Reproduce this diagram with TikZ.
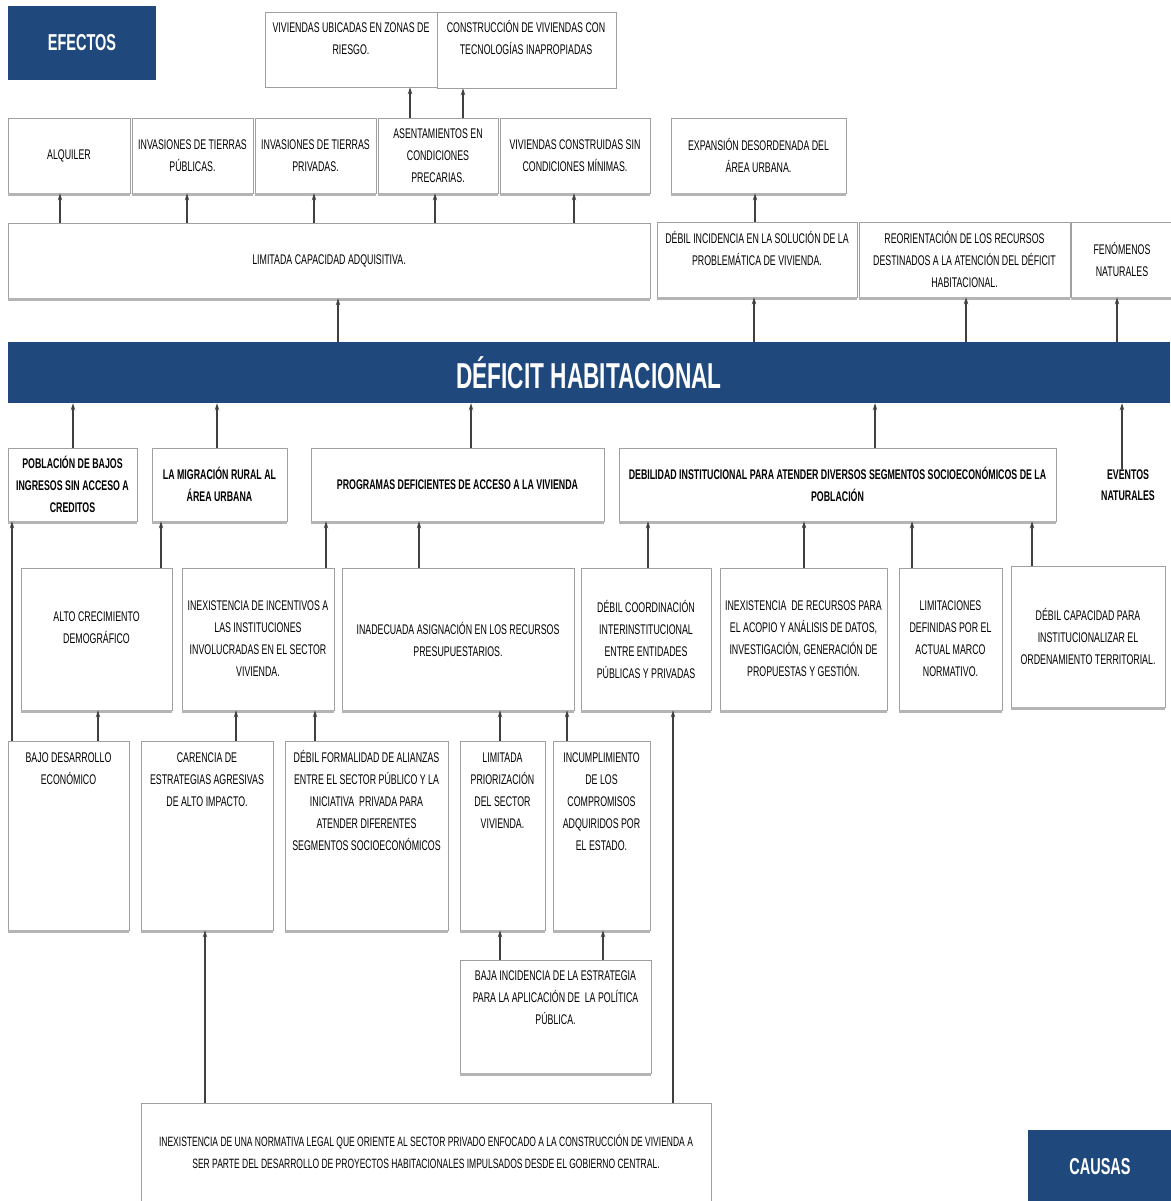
\documentclass[tikz,border=0pt]{standalone}
\usepackage{fontspec}
\setmainfont{Liberation Sans}[FakeStretch=0.63]
\usetikzlibrary{arrows.meta,calc}
\definecolor{navy}{HTML}{1F497D}
\definecolor{edgec}{HTML}{A0A0A0}
\definecolor{arrc}{HTML}{404040}
\definecolor{shdc}{HTML}{B4B4B4}
\newcommand\fl{\rule{0pt}{13pt}}
\newcommand\mybox[7][box]{%
 \pgfmathsetmacro\bxw{#5-#3}\pgfmathsetmacro\bxh{#6-#4}%
 \node[#1, minimum width=\bxw pt, minimum height=\bxh pt] (#2) at ({(#3+#5)/2},{(#4+#6)/2}) {#7};}
\newcommand\arr[3]{\draw[arw] (#2.north -| #1,0) -- (#3.south -| #1,0);}
\begin{document}
\begin{tikzpicture}[x=1pt,y=-1pt,
 box/.style={draw=edgec,line width=0.8pt,fill=white,inner sep=0pt,align=center,font=\fontsize{14}{22}\selectfont},
 bbox/.style={box,font=\fontsize{14}{22}\selectfont\bfseries},
 txt/.style={inner sep=0pt,align=center,font=\fontsize{14}{22}\selectfont},
 title/.style={fill=navy,text=white,inner sep=0pt,font=\fontsize{23}{26}\selectfont\bfseries},
 banner/.style={fill=navy,text=white,inner sep=0pt,font=\fontsize{36}{40}\selectfont\bfseries},
 arw/.style={draw=arrc,line width=1.2pt,-{Stealth[length=7pt,width=4.5pt]}},
 shd/.style={draw=shdc,line width=2.5pt}]
\fill[white] (0,0) rectangle (1170,1201);
\useasboundingbox (0,0) rectangle (1170,1201);

% ---------- EFECTOS ----------
\mybox[title]{EF}{8}{6}{156}{80}{EFECTOS}
\mybox{E1}{265}{12}{437}{87}{}
\node[txt,anchor=north] (tE1) at (351,19) {\fl VIVIENDAS UBICADAS EN ZONAS DE\\RIESGO.};
\mybox{E2}{437}{12}{616}{88}{}
\node[txt,anchor=north] (tE2) at (526,19) {\fl CONSTRUCCIÓN DE VIVIENDAS CON\\TECNOLOGÍAS INAPROPIADAS};

\mybox{A1}{8}{118}{130}{193}{ALQUILER}
\mybox{A2}{132}{118}{253}{193}{INVASIONES DE TIERRAS\\PÚBLICAS.}
\mybox{A3}{255}{118}{376}{193}{INVASIONES DE TIERRAS\\PRIVADAS.}
\mybox{A4}{378}{118}{498}{193}{ASENTAMIENTOS EN\\CONDICIONES\\PRECARIAS.}
\mybox{A5}{500}{118}{650}{193}{VIVIENDAS CONSTRUIDAS SIN\\CONDICIONES MÍNIMAS.}
\mybox{EX}{671}{118}{846}{193}{EXPANSIÓN DESORDENADA DEL\\ÁREA URBANA.}

\mybox{L}{8}{223}{650}{298}{LIMITADA CAPACIDAD ADQUISITIVA.}
\mybox{D1}{657}{222}{857}{297}{}
\node[txt,anchor=north] (tD1) at (757,230) {\fl DÉBIL INCIDENCIA EN LA SOLUCIÓN DE LA\\PROBLEMÁTICA DE VIVIENDA.};
\mybox{D2}{859}{222}{1070}{297}{REORIENTACIÓN DE LOS RECURSOS\\DESTINADOS A LA ATENCIÓN DEL DÉFICIT\\HABITACIONAL.}
\mybox{D3}{1071}{222}{1173}{297}{FENÓMENOS\\NATURALES}

% ---------- BANNER ----------
\mybox[banner]{DH}{8}{342}{1170}{403}{DÉFICIT HABITACIONAL}

% ---------- CAUSAS ----------
\mybox[bbox]{P}{8}{448}{137}{521}{POBLACIÓN DE BAJOS\\INGRESOS SIN ACCESO A\\CREDITOS}
\mybox[bbox]{M}{152}{448}{287}{521}{LA MIGRACIÓN RURAL AL\\ÁREA URBANA}
\mybox[bbox]{PR}{311}{448}{604}{521}{PROGRAMAS DEFICIENTES DE ACCESO A LA VIVIENDA}
\mybox[bbox]{DI}{619}{448}{1056}{521}{DEBILIDAD INSTITUCIONAL PARA ATENDER DIVERSOS SEGMENTOS SOCIOECONÓMICOS DE LA\\POBLACIÓN}
\node[txt,font=\fontsize{14}{21}\selectfont\bfseries] (EV) at (1128,485) {EVENTOS\\NATURALES};

\mybox{C1}{21}{568}{172}{710}{}
\node[txt,anchor=north] (tC1) at (96.5,608) {\fl ALTO CRECIMIENTO\\DEMOGRÁFICO};
\mybox{C2}{182}{568}{334}{710}{INEXISTENCIA DE INCENTIVOS A\\LAS INSTITUCIONES\\INVOLUCRADAS EN EL SECTOR\\VIVIENDA.}
\mybox{C3}{342}{568}{574}{710}{INADECUADA ASIGNACIÓN EN LOS RECURSOS\\PRESUPUESTARIOS.}
\mybox{C4}{581}{568}{711}{710}{DÉBIL COORDINACIÓN\\INTERINSTITUCIONAL\\ENTRE ENTIDADES\\PÚBLICAS Y PRIVADAS}
\mybox{C5}{720}{568}{887}{710}{INEXISTENCIA\ \ DE RECURSOS PARA\\EL ACOPIO Y ANÁLISIS DE DATOS,\\INVESTIGACIÓN, GENERACIÓN DE\\PROPUESTAS Y GESTIÓN.}
\mybox{C6}{899}{568}{1002}{710}{LIMITACIONES\\DEFINIDAS POR EL\\ACTUAL MARCO\\NORMATIVO.}
\mybox{C7}{1011}{566}{1165}{707}{DÉBIL CAPACIDAD PARA\\INSTITUCIONALIZAR EL\\ORDENAMIENTO TERRITORIAL.}

\mybox{B1}{8}{741}{129}{930}{}
\node[txt,anchor=north] (tB1) at (68.5,749) {\fl BAJO DESARROLLO\\ECONÓMICO};
\mybox{B2}{141}{741}{273}{930}{}
\node[txt,anchor=north] (tB2) at (207,749) {\fl CARENCIA DE\\ESTRATEGIAS AGRESIVAS\\DE ALTO IMPACTO.};
\mybox{B3}{285}{741}{448}{930}{}
\node[txt,anchor=north] (tB3) at (366.5,749) {\fl DÉBIL FORMALIDAD DE ALIANZAS\\ENTRE EL SECTOR PÚBLICO Y LA\\INICIATIVA\ \ PRIVADA PARA\\ATENDER DIFERENTES\\SEGMENTOS SOCIOECONÓMICOS};
\mybox{B4}{460}{741}{545}{930}{}
\node[txt,anchor=north] (tB4) at (502.5,749) {\fl LIMITADA\\PRIORIZACIÓN\\DEL SECTOR\\VIVIENDA.};
\mybox{B5}{553}{741}{650}{930}{}
\node[txt,anchor=north] (tB5) at (601.5,749) {\fl INCUMPLIMIENTO\\DE LOS\\COMPROMISOS\\ADQUIRIDOS POR\\EL ESTADO.};

\mybox{BA}{460}{960}{651}{1073}{}
\node[txt,anchor=north] (tBA) at (555.5,967) {\fl BAJA INCIDENCIA DE LA ESTRATEGIA\\PARA LA APLICACIÓN DE\ \ LA POLÍTICA\\PÚBLICA.};
\mybox{NO}{141}{1103}{711}{1206}{}
\node[txt,anchor=north,font=\fontsize{13.5}{22}\selectfont] (tNO) at (426,1133) {\fl INEXISTENCIA DE UNA NORMATIVA LEGAL QUE ORIENTE AL SECTOR PRIVADO ENFOCADO A LA CONSTRUCCIÓN DE VIVIENDA A\\SER PARTE DEL DESARROLLO DE PROYECTOS HABITACIONALES IMPULSADOS DESDE EL GOBIERNO CENTRAL.};

\mybox[title]{CA}{1028}{1130}{1172}{1204}{CAUSAS}

% ---------- shadows ----------
\foreach \n in {A1,A2,A3,A4,A5,EX,L,D1,D2,D3,P,M,PR,DI,C1,C2,C3,C4,C5,C6,C7,B1,B2,B3,B4,B5,BA}
  \draw[shd] ([yshift=-1pt]\n.south west) -- ([yshift=-1pt]\n.south east);

% ---------- arrows ----------
\arr{410}{A4}{E1}
\arr{463}{A4}{E2}
\arr{60}{L}{A1}
\arr{187}{L}{A2}
\arr{314}{L}{A3}
\arr{435}{L}{A4}
\arr{574}{L}{A5}
\arr{755}{D1}{EX}
\arr{338}{DH}{L}
\arr{754}{DH}{D1}
\arr{966}{DH}{D2}
\arr{1117}{DH}{D3}
\arr{73}{P}{DH}
\arr{217}{M}{DH}
\arr{471}{PR}{DH}
\arr{875}{DI}{DH}
\arr{1122}{EV}{DH}
\arr{161}{C1}{M}
\arr{326}{C2}{PR}
\arr{419}{C3}{PR}
\arr{648}{C4}{DI}
\arr{804}{C5}{DI}
\arr{912}{C6}{DI}
\arr{1032}{C7}{DI}
\arr{12}{B1}{P}
\arr{98}{B1}{C1}
\arr{236}{B2}{C2}
\arr{315}{B3}{C2}
\arr{500}{B4}{C3}
\arr{567}{B5}{C3}
\arr{500}{BA}{B4}
\arr{603}{BA}{B5}
\arr{205}{NO}{B2}
\arr{673}{NO}{C4}
\end{tikzpicture}
\end{document}
